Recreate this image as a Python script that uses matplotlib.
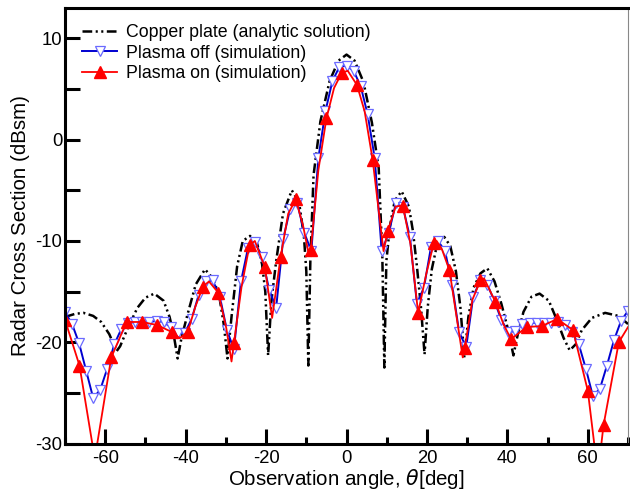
import matplotlib
matplotlib.use("Agg")
import matplotlib.pyplot as plt
from matplotlib.ticker import MultipleLocator

plt.rcParams['font.family'] = ['Liberation Sans', 'DejaVu Sans']
plt.rcParams['axes.unicode_minus'] = False
plt.rcParams['lines.scale_dashes'] = False

# Аналітичний розв'язок (мідна пластина)
copper_x = [-70.0, -67.5, -65.4, -63.0, -61.0, -59.0, -57.8, -57.2, -56.3, -54.5, -52.0, -50.0, -47.8,
            -45.5, -44.0, -43.0, -42.0, -41.0, -39.5, -37.5, -35.2, -33.0, -31.5, -30.5, -29.6, -28.6,
            -27.2, -25.8, -24.0, -22.2, -21.0, -20.2, -19.5, -18.7, -17.5, -15.8, -13.6, -11.8, -10.6,
            -10.0, -9.5, -9.0, -8.2, -6.5, -4.2, -2.0, 0.0, 2.0, 4.2, 6.3, 8.0, 8.9, 9.4, 9.9, 10.8,
            12.0, 13.7, 15.5, 16.5, 17.5, 18.5, 19.4, 20.2, 21.2, 22.7, 24.3, 25.8, 27.2, 28.3, 29.3,
            30.3, 31.6, 33.3, 35.0, 36.8, 38.5, 40.2, 41.5, 42.7, 44.0, 46.0, 48.0, 50.3, 52.3, 54.0,
            55.5, 57.0, 58.5, 61.0, 64.3, 67.6, 70.0]
copper_y = [-17.5, -17.2, -17.1, -17.4, -18.0, -19.2, -20.3, -20.9, -20.4, -18.7, -16.6, -15.6, -15.2,
            -15.9, -17.5, -19.2, -21.6, -19.5, -17.2, -14.3, -12.8, -13.8, -15.8, -18.3, -21.6, -17.5,
            -12.5, -10.0, -9.5, -10.3, -12.3, -15.0, -21.3, -16.0, -12.0, -7.3, -5.0, -6.2, -9.5,
            -13.0, -22.3, -12.0, -3.5, 1.8, 5.8, 7.8, 8.4, 7.8, 5.7, 1.7, -2.8, -11.5, -22.5, -12.0, -8.5,
            -6.0, -5.1, -6.6, -9.0, -12.5, -16.5, -21.2, -16.5, -12.8, -10.0, -9.6, -10.5, -13.0, -16.5, -21.5,
            -17.5, -14.6, -13.2, -12.7, -14.0, -16.2, -18.8, -21.3, -19.0, -17.0, -15.5, -15.2, -15.9, -17.8, -19.6,
            -20.8, -20.2, -18.8, -17.6, -17.1, -17.4, -18.2]

# Плазма вимкнена (симуляція)
off_x = [-70.0, -68.25, -66.5, -64.75, -63.0, -61.25, -59.5, -57.75, -56.0, -54.25, -52.5, -50.75,
         -49.0, -47.25, -45.5, -43.75, -42.0, -40.25, -38.5, -36.75, -35.0, -33.25, -31.5, -29.75,
         -28.0, -26.25, -24.5, -22.75, -21.0, -19.25, -17.5, -15.75, -14.0, -12.25, -10.5, -8.75,
         -7.0, -5.25, -3.5, -1.75, 0.0, 1.75, 3.5, 5.25, 7.0, 8.75, 10.5, 12.25, 14.0, 15.75, 17.5,
         19.25, 21.0, 22.75, 24.5, 26.25, 28.0, 29.75, 31.5, 33.25, 35.0, 36.75, 38.5, 40.25, 42.0,
         43.75, 45.5, 47.25, 49.0, 50.75, 52.5, 54.25, 56.0, 57.75, 59.5, 61.25, 63.0, 64.75, 66.5,
         68.25, 70.0]
off_y = [-17.0, -18.2, -20.1, -22.8, -25.5, -24.7, -22.6, -20.2, -18.7, -18.1, -18.0, -18.0,
         -18.0, -17.9, -18.0, -18.5, -19.1, -19.1, -17.7, -15.3, -14.0, -13.9, -15.5, -18.8,
         -20.7, -14.0, -10.7, -10.1, -11.6, -14.8, -16.6, -9.8, -6.8, -6.3, -9.2, -11.0,
         -1.8, 2.8, 5.8, 7.2, 7.3, 6.8, 5.3, 2.5, -1.8, -11.0, -9.2, -6.3, -6.6, -9.6, -16.2,
         -14.6, -10.6, -10.0, -11.0, -14.3, -19.0, -20.5, -15.5, -13.9, -14.3, -15.9, -17.8, -19.0, -18.9,
         -18.2, -18.1, -18.1, -18.1, -18.1, -18.0, -18.3, -19.0, -20.2, -22.6, -25.3, -24.6, -22.3, -19.8,
         -17.9, -16.9]

# Плазма увімкнена (симуляція): точки з маркерами
on_x = [-70.0, -66.4, -62.6, -58.5, -54.7, -50.9, -47.1, -43.4, -39.5, -35.7, -31.9, -28.0, -24.1,
        -20.3, -16.4, -12.6, -8.9, -5.0, -1.2, 2.6, 6.5, 10.3, 14.0, 17.8, 21.7, 25.6, 29.4, 33.3,
        37.0, 40.9, 44.8, 48.6, 52.4, 56.3, 60.0, 63.9, 67.7]
on_y = [-17.8, -22.3, -31.5, -21.5, -18.0, -18.0, -18.3, -19.0, -19.0, -14.5, -15.1, -20.1, -10.4,
        -12.6, -11.6, -5.9, -10.9, 2.1, 6.6, 5.4, -2.0, -9.0, -6.5, -17.1, -10.2, -12.9, -20.6, -13.9,
        -16.0, -19.7, -18.5, -18.4, -17.7, -18.8, -24.8, -28.2, -20.0]
# проміжні точки кривої без маркерів
on_extra_x = [-41.5, -37.6, -34.2, -29.9, -28.6, -26.1, -22.8, -18.5, -14.5, -10.8, -9.4, -7.0, -3.1,
              0.3, 4.5, 9.2, 12.2, 15.9, 19.8, 22.4, 23.7, 28.9, 31.3, 34.2, 39.0, 62.5, 70.0]
on_extra_y = [-19.6, -16.5, -14.0, -18.6, -21.9, -14.5, -10.0, -17.6, -7.3, -8.5, -11.3, -3.0, 5.1,
              6.8, 2.8, -11.0, -6.6, -10.3, -13.3, -10.0, -10.8, -21.5, -15.8, -13.7, -18.2, -33.0, -18.5]

pts = sorted(zip(on_x + on_extra_x, on_y + on_extra_y))
on_line_x = [p[0] for p in pts]
on_line_y = [p[1] for p in pts]
mark_idx = [i for i, x in enumerate(on_line_x) if x in on_x]

fig = plt.figure(figsize=(6.3, 4.91), dpi=100)
ax = fig.add_axes([0.1032, 0.0967, 0.8937, 0.887])

ax.plot(copper_x, copper_y, color='black', lw=1.8, ls=(0, (7, 2.5, 1.5, 2.5, 1.5, 2.5)),
        label='Copper plate (analytic solution)')
ax.plot(off_x, off_y, color='#0000d0', lw=1.4, marker='v', ms=6.5, mfc='white', mec='#6a6aff', mew=0.9,
        label='Plasma off (simulation)')
ax.plot(on_line_x, on_line_y, color='#ff0000', lw=1.3, marker='^', ms=8, mfc='#ff0000', mec='#ff0000',
        markevery=mark_idx, label='Plasma on (simulation)')

ax.set_xlim(-70, 70)
ax.set_ylim(-30, 13)
ax.xaxis.set_major_locator(MultipleLocator(20))
ax.xaxis.set_minor_locator(MultipleLocator(10))
ax.yaxis.set_major_locator(MultipleLocator(10))
ax.yaxis.set_minor_locator(MultipleLocator(5))
ax.tick_params(which='both', direction='in', top=False, right=False, width=2.2, labelsize=13.3)
ax.tick_params(axis='x', which='major', length=10.8, pad=5)
ax.tick_params(axis='x', which='minor', length=5)
ax.tick_params(axis='y', which='both', length=10.8, pad=2)

for side in ['left', 'bottom', 'top']:
    ax.spines[side].set_linewidth(2.2)
ax.spines['right'].set_linewidth(0.8)
ax.spines['right'].set_color('#888888')

ax.set_xlabel(r'Observation angle, $\theta$[deg]', fontsize=14.8, labelpad=0)
ax.set_ylabel('Radar Cross Section (dBsm)', fontsize=14.8, labelpad=4)

ax.legend(loc='upper left', bbox_to_anchor=(0.03, 0.963), frameon=False, fontsize=12.8,
          handlelength=2.0, handletextpad=0.5, labelspacing=0.2, borderaxespad=0, borderpad=0,
          numpoints=1)

plt.savefig('out.png', dpi=100)
